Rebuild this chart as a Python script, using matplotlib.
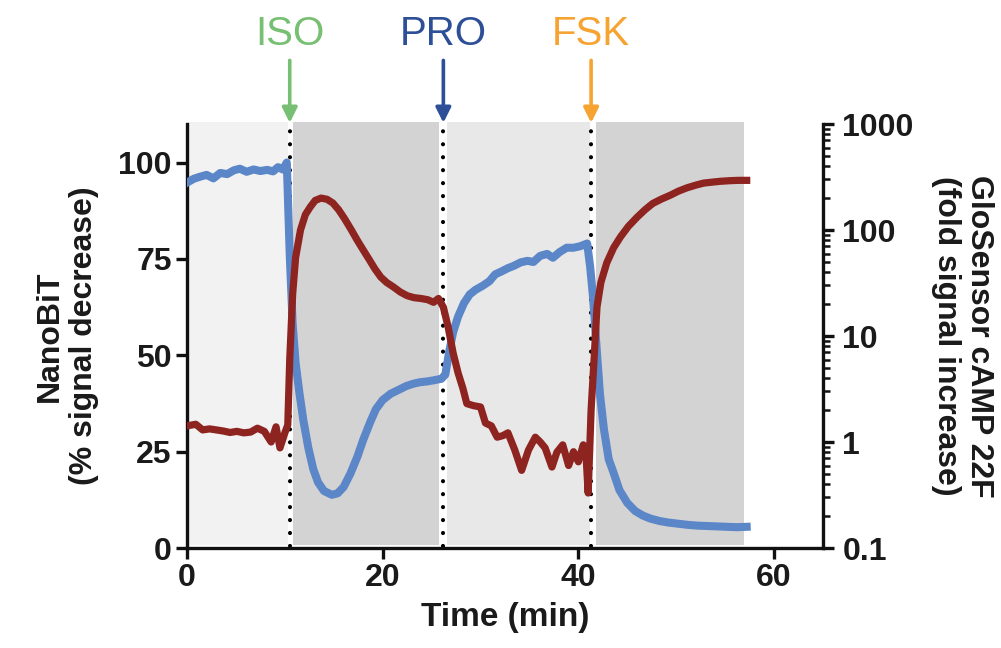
import matplotlib
matplotlib.use("Agg")
import matplotlib.pyplot as plt
from matplotlib.ticker import LogLocator, FixedLocator, NullFormatter

plt.rcParams['font.family'] = ['Liberation Sans', 'DejaVu Sans']

# ---------------- data ----------------
nano_t = [0.0, 0.7, 1.3, 2.0, 2.7, 3.4, 4.1, 4.8, 5.4, 6.1, 6.8, 7.5, 8.2, 8.8, 9.3, 9.8,
          10.2, 10.5, 10.8, 11.1, 11.5, 11.9, 12.4, 12.9, 13.4, 14.0, 14.8, 15.4, 16.0,
          16.7, 17.4, 18.0, 18.7, 19.3, 20.0, 20.8, 21.6, 22.4, 23.1, 23.8, 24.5, 25.2,
          26.0, 26.4, 26.8, 27.2, 27.7, 28.3, 28.9, 29.5, 30.2, 30.9, 31.5, 32.1, 32.8,
          33.4, 34.1, 34.8, 35.4, 36.1, 36.8, 37.4, 38.1, 38.8, 39.5, 40.2, 40.9, 41.2,
          41.5, 41.9, 42.2, 42.6, 43.1, 43.6, 44.2, 45.0, 45.8, 46.6, 47.4, 48.3, 49.2,
          50.2, 51.2, 52.2, 53.2, 54.2, 55.2, 56.2, 57.2]
nano_v = [94.8, 95.8, 96.3, 96.8, 95.9, 97.3, 97.0, 98.0, 98.4, 97.6, 98.2, 97.8, 98.1, 97.7, 98.8, 98.2,
          100.0, 76, 58, 48, 40, 33, 26, 20.5, 17, 14.8, 13.8, 14.2, 15.8,
          19.3, 23.6, 28, 32.5, 36, 38.4, 40, 41, 42, 42.6, 43, 43.2, 43.5,
          43.9, 45, 51, 56, 60, 63.5, 65.8, 67, 68, 69.2, 71, 71.7, 72.6,
          73.2, 74.1, 74.5, 74.2, 75.8, 76.3, 75.3, 76.8, 77.9, 77.9, 78.3, 79.0, 73,
          65, 50.6, 40, 31, 23, 19.5, 15, 11.7, 9.6, 8.4, 7.6, 7.0, 6.6,
          6.3, 6.0, 5.8, 5.7, 5.6, 5.5, 5.4, 5.5]

glo_t = [0.0, 0.9, 1.6, 2.3, 3.0, 3.7, 4.4, 5.1, 5.8, 6.5, 7.2, 7.9, 8.6, 9.1, 9.5, 10.0,
         10.3, 10.5, 10.8, 11.1, 11.6, 12.1, 12.6, 13.1, 13.7, 14.3, 14.9, 15.5, 16.1,
         16.8, 17.4, 18.0, 18.6, 19.2, 19.8, 20.4, 21.1, 21.8, 22.5, 23.2, 23.9, 24.6,
         25.2, 25.7, 26.2, 26.7, 27.2, 27.7, 28.2, 28.6, 29.3, 30.0, 30.5, 31.1, 31.7,
         32.3, 32.8, 33.5, 34.2, 34.9, 35.6, 36.1, 36.6, 37.3, 37.8, 38.4, 39.0, 39.5,
         40.0, 40.5, 40.8, 41.0, 41.3, 41.6, 41.9, 42.3, 42.9, 43.6, 44.3, 45.1, 46.0,
         46.8, 47.6, 48.5, 49.4, 50.2, 51.1, 52.0, 52.8, 53.7, 54.5, 55.5, 56.4, 57.2]
glo_v = [1.42, 1.47, 1.30, 1.33, 1.30, 1.27, 1.23, 1.26, 1.22, 1.24, 1.35, 1.26, 1.00, 1.39, 0.88, 1.22,
         1.45, 6.0, 25, 55, 100, 140, 165, 190, 200, 195, 180, 155, 128,
         100, 80, 65, 53, 43, 36, 32, 29, 26, 24, 23, 22.6, 22,
         20.8, 22.6, 18.7, 12, 6.9, 4.5, 3.2, 2.3, 2.2, 2.14, 1.51, 1.42, 1.11,
         1.15, 1.22, 0.84, 0.54, 0.84, 1.11, 1.0, 0.88, 0.58, 0.80, 0.94, 0.60, 0.81,
         0.65, 0.94, 0.70, 0.33, 2.0, 6, 18.7, 32, 49, 68, 86, 108, 132,
         155, 178, 196, 213, 232, 250, 265, 277, 283, 288, 292, 294, 294]

drug_names = ['ISO', 'PRO', 'FSK']
drug_times = [10.5, 26.2, 41.3]
drug_colors = ['#77BF72', '#2D4F97', '#F6A331']

phase_starts = [0.0, 10.8, 26.6, 41.8]
phase_ends = [10.3, 25.8, 41.15, 56.9]
phase_colors = ['#F2F2F2', '#D4D3D4', '#E8E8E8', '#D4D3D4']

left_ticks = [0, 25, 50, 75, 100]
x_ticks = [0, 20, 40, 60]
right_ticks = [0.1, 1, 10, 100, 1000]
right_labels = ['0.1', '1', '10', '100', '1000']

# ---------------- figure ----------------
fig = plt.figure(figsize=(10.01, 6.48), dpi=100)
ax = fig.add_axes([187/1001, 1-548/648, (823-187)/1001, (548-124)/648])
ax2 = ax.twinx()

for a, b, c in zip(phase_starts, phase_ends, phase_colors):
    ax.fill_between([a, b], 0.8, 110.5, color=c, lw=0, zorder=0, clip_on=False)

for t in drug_times:
    ax.plot([t, t], [0.5, 110], color='black', lw=3.0, dashes=(0.01, 3.1),
            dash_capstyle='round', zorder=1, clip_on=False)

ax.plot(nano_t, nano_v, color='#5B86C7', lw=5.8, solid_joinstyle='round', zorder=3)
ax2.plot(glo_t, glo_v, color='#8E2420', lw=5.2, solid_joinstyle='round', zorder=3)

ax.set_xlim(0, 65)
ax.set_ylim(0, 110)
ax2.set_yscale('log')
ax2.set_ylim(0.1, 1000)

ax.set_xticks(x_ticks)
ax.set_yticks(left_ticks)
ax2.yaxis.set_major_locator(FixedLocator(right_ticks))
ax2.set_yticklabels(right_labels)
ax2.yaxis.set_minor_locator(LogLocator(base=10, subs=[2, 3, 4, 5, 6, 7, 8, 9]))
ax2.yaxis.set_minor_formatter(NullFormatter())

for a in (ax, ax2):
    a.spines['top'].set_visible(False)
    for s in a.spines.values():
        s.set_linewidth(2.4)
        s.set_color('#111111')
ax.spines['right'].set_visible(False)
ax2.spines['left'].set_visible(False)
ax2.spines['bottom'].set_visible(False)

ax.tick_params(axis='both', which='major', length=8, width=2.4, direction='out',
               pad=3, colors='#111111', labelsize=23)
ax2.tick_params(axis='y', which='major', length=8, width=2.4, direction='out',
                pad=6, colors='#111111', labelsize=23)
ax2.tick_params(axis='y', which='minor', length=5, width=1.8, direction='out',
                colors='#111111')
for lab in ax.get_xticklabels() + ax.get_yticklabels() + ax2.get_yticklabels():
    lab.set_fontweight('bold')
    lab.set_color('#1a1a1a')

ax.set_xlabel('Time (min)', fontsize=24, fontweight='bold', color='#1a1a1a', labelpad=6)
ax.set_ylabel('NanoBiT\n(% signal decrease)', fontsize=23, fontweight='bold',
              color='#1a1a1a', labelpad=14, linespacing=1.15)
ax2.set_ylabel('GloSensor cAMP 22F\n(fold signal increase)', fontsize=23,
               fontweight='bold', color='#1a1a1a', rotation=270, labelpad=58,
               linespacing=1.15)

for name, t, c in zip(drug_names, drug_times, drug_colors):
    ax.annotate('', xy=(t, 110.3), xycoords='data', xytext=(t, 126.5),
                textcoords='data',
                arrowprops=dict(arrowstyle='-|>,head_length=0.9,head_width=0.45',
                                color=c, lw=2.6, shrinkA=0, shrinkB=0),
                annotation_clip=False)
    ax.text(t, 128.5, name, ha='center', va='bottom', fontsize=29, color=c)

fig.savefig('out.png', dpi=100)
